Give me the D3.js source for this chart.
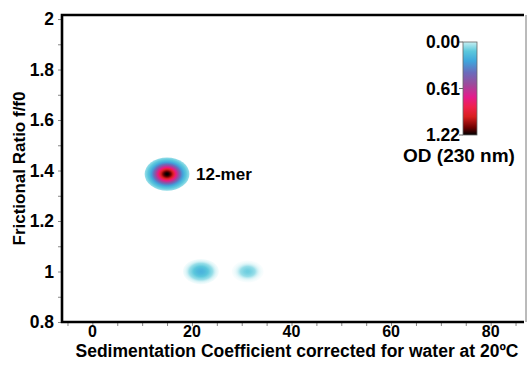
<!DOCTYPE html>
<html>
<head>
<meta charset="utf-8">
<script src="https://cdn.jsdelivr.net/npm/d3@7"></script>
<style>
  body { margin: 0; background: #fff; }
  svg { display: block; }
  text { font-family: "Liberation Sans", Arial, sans-serif; font-weight: bold; fill: #000; }
</style>
</head>
<body>
<div id="chart"></div>
<script>
// peaks of the 2DSA distribution (s20,w / f/f0 / OD / spread)
const peakS = [15.0, 21.8, 31.2];
const peakF = [1.386, 1.0, 1.0];
const peakOD = [1.22, 0.2, 0.1];
const spreadS = [4.5, 3.6, 3.2];
const spreadF = [0.066, 0.05, 0.044];
const peakLabels = ['12-mer', '', ''];

const xTicks = [0, 20, 40, 60, 80];
const yTicks = [0.8, 1, 1.2, 1.4, 1.6, 1.8, 2];
const odTicks = [0, 0.61, 1.22];

const odStops = [0, 0.12, 0.25, 0.4, 0.55, 0.72, 0.85, 0.98, 1.12, 1.22];
const odColors = ['#c6eff2', '#5cc8dc', '#3fa6dc', '#6a6cbc', '#9a4c9c',
                  '#e41a8c', '#f0204c', '#d81e1e', '#700000', '#000000'];

const W = 527, H = 367;
const m = {left: 62, top: 15, right: 524, bottom: 322};

const svg = d3.select('#chart').append('svg')
  .attr('width', W).attr('height', H);

const x = d3.scaleLinear().domain([-6.1, 86.7]).range([m.left, m.right]);
const y = d3.scaleLinear().domain([0.8, 2.016]).range([m.bottom, m.top]);
const color = d3.scaleLinear().domain(odStops).range(odColors).clamp(true);

const defs = svg.append('defs');

// blobs as ellipses with radial gradients
const peaks = peakS.map((s, i) => ({s, f: peakF[i], od: peakOD[i], ws: spreadS[i], wf: spreadF[i], label: peakLabels[i]}));
const k = 2.5;
peaks.forEach((p, i) => {
  const g = defs.append('radialGradient').attr('id', 'blob' + i);
  d3.range(0, 21).forEach(j => {
    const t = j / 20;
    const v = p.od * Math.exp(-(k * t) * (k * t) / 2);
    g.append('stop')
      .attr('offset', t)
      .attr('stop-color', color(v))
      .attr('stop-opacity', Math.min(1, v / 0.05));
  });
});

svg.append('g').selectAll('ellipse')
  .data(peaks)
  .join('ellipse')
  .attr('cx', d => x(d.s))
  .attr('cy', d => y(d.f))
  .attr('rx', d => x(d.s + d.ws) - x(d.s))
  .attr('ry', d => y(d.f) - y(d.f + d.wf))
  .attr('fill', (d, i) => 'url(#blob' + i + ')');

svg.append('g').selectAll('text')
  .data(peaks.filter(d => d.label))
  .join('text')
  .attr('x', 196)
  .attr('y', d => y(d.f) + 6)
  .attr('font-size', 17)
  .text(d => d.label);

// axes (ticks only, labels drawn separately)
const xAxis = svg.append('g').attr('transform', `translate(0,${m.bottom})`);
xAxis.call(d3.axisBottom(x).tickValues(d3.range(-5, 86, 5)).tickSize(4))
  .call(g => g.select('.domain').remove())
  .call(g => g.selectAll('.tick text').remove());
xAxis.selectAll('.tick line').attr('stroke', '#888');

svg.append('g').selectAll('text').data(xTicks).join('text')
  .attr('x', d => x(d)).attr('y', 337).attr('text-anchor', 'middle')
  .attr('font-size', 16).text(d => d);

const yAxis = svg.append('g').attr('transform', `translate(${m.left},0)`);
yAxis.call(d3.axisLeft(y).tickValues(d3.range(0.8, 2.05, 0.1)).tickSize(4))
  .call(g => g.select('.domain').remove())
  .call(g => g.selectAll('.tick text').remove());
yAxis.selectAll('.tick line').attr('stroke', '#888');

svg.append('g').selectAll('text').data(yTicks).join('text')
  .attr('x', m.left - 8).attr('y', d => y(d)).attr('dy', '0.36em').attr('text-anchor', 'end')
  .attr('font-size', 17.5).text(d => String(+d.toFixed(1)));

// frame
svg.append('line').attr('x1', m.right + 2).attr('x2', m.right + 2).attr('y1', m.top).attr('y2', m.bottom)
  .attr('stroke', '#777').attr('stroke-width', 1);
svg.append('path')
  .attr('d', `M${m.right},${m.top}H${m.left}V${m.bottom}H${m.right}`)
  .attr('fill', 'none').attr('stroke', '#000').attr('stroke-width', 2.6);

// axis titles
svg.append('text')
  .attr('x', 297).attr('y', 357)
  .attr('text-anchor', 'middle').attr('font-size', 17.5)
  .text('Sedimentation Coefficient corrected for water at 20ºC');
svg.append('text')
  .attr('transform', `translate(25,${(m.top + m.bottom) / 2}) rotate(-90)`)
  .attr('text-anchor', 'middle').attr('font-size', 17)
  .text('Frictional Ratio f/f0');

// colour bar
const cb = {x: 463, w: 14, top: 42, bottom: 135};
const cy = d3.scaleLinear().domain([0, 1.22]).range([cb.top, cb.bottom]);
const lg = defs.append('linearGradient').attr('id', 'cbar')
  .attr('x1', 0).attr('x2', 0).attr('y1', 0).attr('y2', 1);
odStops.forEach((s, i) => lg.append('stop').attr('offset', s / 1.22).attr('stop-color', odColors[i]));
svg.append('rect')
  .attr('x', cb.x).attr('y', cb.top).attr('width', cb.w).attr('height', cb.bottom - cb.top)
  .attr('fill', 'url(#cbar)').attr('stroke', '#666').attr('stroke-width', 0.8);
const cbAxis = svg.append('g');
cbAxis.selectAll('line').data(odTicks).join('line')
  .attr('x1', cb.x - 4).attr('x2', cb.x).attr('y1', d => cy(d)).attr('y2', d => cy(d))
  .attr('stroke', '#666');
cbAxis.selectAll('text').data(odTicks).join('text')
  .attr('x', cb.x - 3).attr('y', d => cy(d)).attr('dy', '0.36em').attr('text-anchor', 'end')
  .attr('font-size', 17.5).text(d => d.toFixed(2));
svg.append('text')
  .attr('x', 459).attr('y', 162).attr('text-anchor', 'middle').attr('font-size', 19)
  .text('OD (230 nm)');
</script>
</body>
</html>
